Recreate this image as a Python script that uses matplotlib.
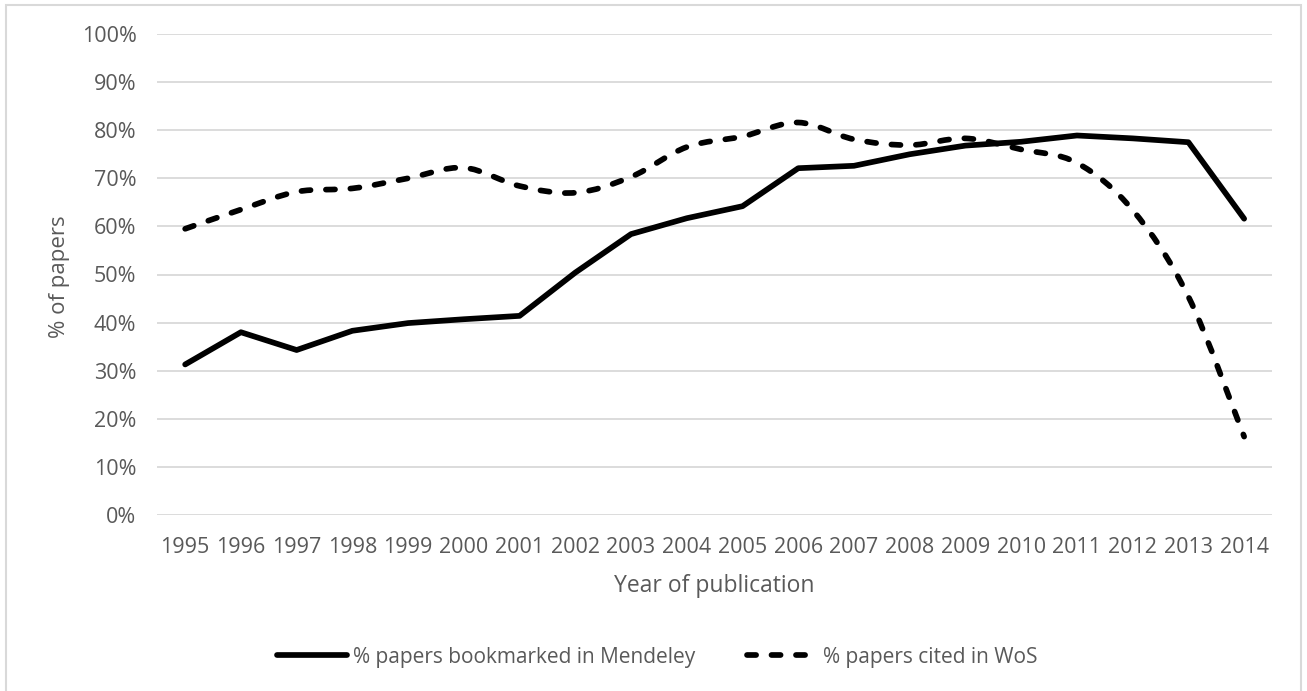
import matplotlib
matplotlib.use("Agg")
import matplotlib.pyplot as plt
from matplotlib.path import Path
from matplotlib.patches import PathPatch, Rectangle
from matplotlib.lines import Line2D
import numpy as np

plt.rcParams['font.family'] = ['Open Sans', 'DejaVu Sans']

years = ['1995', '1996', '1997', '1998', '1999', '2000', '2001', '2002', '2003', '2004',
         '2005', '2006', '2007', '2008', '2009', '2010', '2011', '2012', '2013', '2014']
mendeley_pct = [31.3, 38.0, 34.3, 38.3, 39.9, 40.7, 41.4, 50.4, 58.4, 61.7,
                64.2, 72.1, 72.6, 75.0, 76.8, 77.6, 78.9, 78.3, 77.5, 61.6]
wos_pct = [59.5, 63.5, 67.2, 67.9, 70.0, 72.2, 68.4, 67.0, 70.3, 76.5,
           78.7, 81.6, 78.1, 76.9, 78.3, 76.0, 73.2, 63.4, 45.4, 16.3]
yticks = list(range(0, 101, 10))

TEXT = '#595959'
GRID = '#d9d9d9'
LW = 4.1
DASH = (1.6, 2.7)

W, H = 1307, 691
fig = plt.figure(figsize=(W / 100, H / 100), dpi=100)
ax = fig.add_axes([157.3 / W, 1 - 515 / H, (1272 - 157.3) / W, (515 - 34) / H])

x = np.arange(len(years))
ax.set_xlim(-0.5, len(years) - 0.5)
ax.set_ylim(0, 100)

for v in yticks:
    ax.axhline(v, color=GRID, lw=1.3, zorder=1)

# solid straight-segment series
ax.plot(x, mendeley_pct, color='black', lw=LW, solid_capstyle='round',
        solid_joinstyle='round', zorder=3)


def smooth_path(xs, ys):
    """Cubic Bezier path through the points (Catmull-Rom style control points)."""
    pts = np.column_stack([xs, ys]).astype(float)
    n = len(pts)
    verts = [pts[0]]
    codes = [Path.MOVETO]
    for i in range(n - 1):
        p0 = pts[i - 1] if i > 0 else pts[i]
        p1 = pts[i]
        p2 = pts[i + 1]
        p3 = pts[i + 2] if i + 2 < n else pts[i + 1]
        c1 = p1 + (p2 - p0) / 6.0
        c2 = p2 - (p3 - p1) / 6.0
        verts += [c1, c2, p2]
        codes += [Path.CURVE4] * 3
    return Path(verts, codes)


patch = PathPatch(smooth_path(x, wos_pct), facecolor='none', edgecolor='black',
                  lw=LW, linestyle=(0, DASH), zorder=3)
patch.set_capstyle('round')
patch.set_joinstyle('round')
ax.add_patch(patch)

for s in ax.spines.values():
    s.set_visible(False)
ax.set_xticks(x)
ax.set_xticklabels(years)
ax.set_yticks(yticks)
ax.set_yticklabels([f'{v}%' for v in yticks])
ax.tick_params(axis='both', length=0, colors=TEXT, labelsize=15.5)
ax.tick_params(axis='x', pad=16)
ax.tick_params(axis='y', pad=15)

fig.text(714 / W, 1 - 586 / H, 'Year of publication', ha='center', va='center',
         color=TEXT, fontsize=16.5)
fig.text(60 / W, 1 - 277 / H, '% of papers', ha='center', va='center',
         rotation=90, color=TEXT, fontsize=16)

handles = [
    Line2D([], [], color='black', lw=LW, solid_capstyle='round'),
    Line2D([], [], color='black', lw=LW, linestyle=(0, DASH),
           dash_capstyle='round'),
]
leg = fig.legend(handles, ['% papers bookmarked in Mendeley', '% papers cited in WoS'],
                 loc='center', bbox_to_anchor=(657 / W, 1 - 657 / H), ncol=2,
                 frameon=False, fontsize=15, handlelength=3.4, handletextpad=0.25,
                 columnspacing=2.5, labelcolor=TEXT)

# chart-area border
fig.patches.append(Rectangle((5.5 / W, -0.05), (1301 - 5.5) / W, 1.05 - 5.5 / H,
                             transform=fig.transFigure, fill=False,
                             edgecolor=GRID, lw=1.5))

fig.savefig('out.png', dpi=100)
